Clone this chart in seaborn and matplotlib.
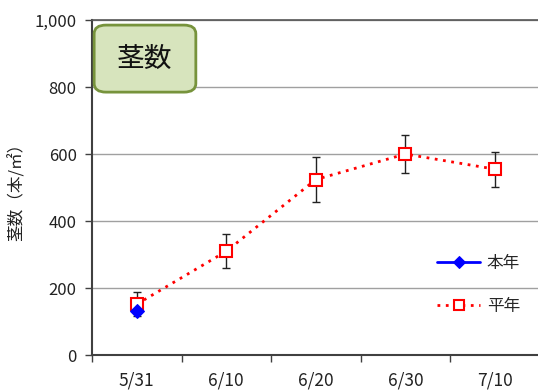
import numpy as np
import pandas as pd
import matplotlib.pyplot as plt
import seaborn as sns
from matplotlib.patches import FancyBboxPatch
from matplotlib.ticker import FuncFormatter

dates = ["5/31", "6/10", "6/20", "6/30", "7/10"]
avg_vals = [152, 310, 524, 600, 555]
avg_err = [36, 50, 66, 57, 52]
this_dates = ["5/31"]
this_vals = [133]

sns.set_theme(style="white")
plt.rcParams['font.family'] = ['Noto Sans CJK JP', 'DejaVu Sans']

fig = plt.figure(figsize=(5.38, 3.92), dpi=100)
ax = fig.add_axes([0.171, 0.094, 0.832, 0.855])

avg_df = pd.DataFrame({"x": np.arange(len(dates)), "y": avg_vals})
this_df = pd.DataFrame({"x": [dates.index(d) for d in this_dates], "y": this_vals})

ax.errorbar(avg_df["x"], avg_df["y"], yerr=avg_err, fmt="none", ecolor="#222222",
            elinewidth=1.0, capsize=3, capthick=1.0, zorder=2)
sns.lineplot(data=avg_df, x="x", y="y", ax=ax, color="#ff0000", linestyle=(0, (1, 2)),
             linewidth=2.0, marker="s", markersize=9, markerfacecolor="white",
             markeredgecolor="#ff0000", markeredgewidth=1.5, label="平年", zorder=3)
sns.lineplot(data=this_df, x="x", y="y", ax=ax, color="#0000ff", linewidth=2.0,
             marker="D", markersize=7, markeredgecolor="#0000ff", label="本年", zorder=4)

ax.set_xlim(-0.5, len(dates) - 0.5)
ax.set_ylim(0, 1000)
ax.set_yticks(range(0, 1001, 200))
ax.yaxis.set_major_formatter(FuncFormatter(lambda v, p: f"{int(v):,}"))
ax.set_xticks(np.arange(len(dates)))
ax.set_xticklabels(dates)
ax.set_xticks(np.arange(len(dates) + 1) - 0.5, minor=True)
ax.tick_params(axis="x", which="major", length=0, pad=12, labelsize=12.5, colors="#222222")
ax.tick_params(axis="x", which="minor", length=5, width=1, color="#404040", direction="out", bottom=True)
ax.tick_params(axis="y", length=5, width=1, color="#404040", direction="out", left=True,
               labelsize=12, colors="#222222", pad=6)
ax.set_xlabel("")
ax.set_ylabel("茎数（本/㎡）", fontsize=12, color="#222222", labelpad=6)

ax.yaxis.grid(True, color="#a0a0a0", linewidth=1)
ax.set_axisbelow(True)
for s in ["left", "bottom"]:
    ax.spines[s].set_color("#404040")
    ax.spines[s].set_linewidth(1.5)
ax.spines["top"].set_color("#555555")
ax.spines["top"].set_linewidth(1.2)
ax.spines["right"].set_visible(False)

handles, labels = ax.get_legend_handles_labels()
order = [labels.index("本年"), labels.index("平年")]
ax.legend([handles[i] for i in order], [labels[i] for i in order], loc="center right",
          bbox_to_anchor=(0.99, 0.21), frameon=False, fontsize=12, handlelength=2.6,
          labelspacing=1.55, handletextpad=0.4, markerscale=0.85)

box = FancyBboxPatch((0.175, 0.765), 0.189, 0.171, transform=fig.transFigure,
                     boxstyle="round,pad=0,rounding_size=0.022", facecolor="#d7e4bd",
                     edgecolor="#77933c", linewidth=2, zorder=5)
fig.patches.append(box)
fig.text(0.2695, 0.85, "茎数", ha="center", va="center", fontsize=20, color="#111111", zorder=6)

fig.savefig("out.png", dpi=100)
